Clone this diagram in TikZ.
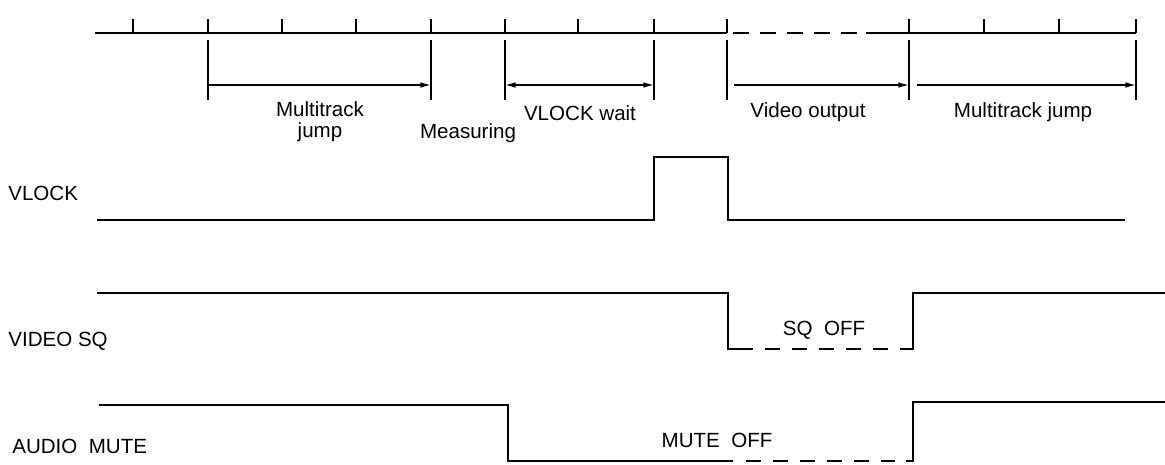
\documentclass[tikz,border=0pt]{standalone}
\usepackage{fontspec}
\setmainfont{Liberation Sans}
\usetikzlibrary{arrows.meta}
\tikzset{
  signal/.style={line width=1.5pt, line join=miter, line cap=butt},
  off dash/.style={signal, dash pattern=on 0.3cm off 0.24cm},
  axis line/.style={line width=1.3pt},
  tick mark/.style={line width=0.9pt},
  span mark/.style={line width=0.7pt},
  span/.style={-{Latex[length=6pt,width=3.2pt]}, line width=0.8pt},
  span both/.style={{Latex[length=6pt,width=3.2pt]}-{Latex[length=6pt,width=3.2pt]},
    line width=0.8pt},
  phase label/.style={font=\fontsize{11.7}{12}\selectfont, inner sep=0pt,
    anchor=base, align=center},
  signal name/.style={font=\fontsize{11.7}{12}\selectfont, inner sep=0pt,
    anchor=base west}
}

\begin{document}
\begin{tikzpicture}[x=0.02cm, y=-0.02cm]
  \useasboundingbox (0,0) rectangle (1165,464);
  % time scale
  \draw[axis line] (95,33) -- (727,33);
  \draw[axis line, dash pattern=on 0.32cm off 0.22cm] (733,33) -- (860,33);
  \draw[axis line] (866,33) -- (1136,33);
  \foreach \tx in {133,208,282,356,431,505,578,654,727,909,984,1059,1136}
    \draw[tick mark] (\tx,33) -- (\tx,19);
  \foreach \sx in {208,431,505,654,727,909,1136}
    \draw[span mark] (\sx,40) -- (\sx,100);
  % phases
  \coordinate (jumpA) at (208,85);  \coordinate (jumpB) at (431,85);
  \coordinate (waitA) at (505,85);  \coordinate (waitB) at (654,85);
  \coordinate (videoA) at (734,85); \coordinate (videoB) at (909,85);
  \coordinate (jump2A) at (917,85); \coordinate (jump2B) at (1136,85);
  \draw[span] (jumpA) -- (jumpB);
  \draw[span both] (waitA) -- (waitB);
  \draw[span] (videoA) -- (videoB);
  \draw[span] (jump2A) -- (jump2B);
  \node[phase label, anchor=north] (jumplbl) at (320,101.5) {Multitrack\\jump};
  \node[phase label] (measlbl) at (468,138) {Measuring};
  \node[phase label] (waitlbl) at (580,120) {VLOCK wait};
  \node[phase label] (videolbl) at (808,117) {Video output};
  \node[phase label] (jump2lbl) at (1023,117) {Multitrack jump};
  % signals
  \node[signal name] (vlock) at (8,200) {VLOCK};
  \draw[signal] (97,220) -- (654,220) -- (654,157) -- (728,157) -- (728,220)
    -- (1125,220);
  \node[signal name] (videosq) at (8,346) {VIDEO SQ};
  \draw[signal] (97,293) -- (728,293) -- (728,349) -- (753,349);
  \draw[off dash] (765,349) -- (888,349);
  \draw[signal] (900,349) -- (913,349) -- (913,293) -- (1165,293);
  \node[phase label] (sqoff) at (824,335) {SQ~~OFF};
  \node[signal name] (audio) at (12,453) {AUDIO~~MUTE};
  \draw[signal] (99,405) -- (508,405) -- (508,461) -- (733,461);
  \draw[off dash] (746,461) -- (895,461);
  \draw[signal] (906,461) -- (913,461) -- (913,402) -- (1165,402);
  \node[phase label] (muteoff) at (717,447) {MUTE~~OFF};
\end{tikzpicture}
\end{document}
